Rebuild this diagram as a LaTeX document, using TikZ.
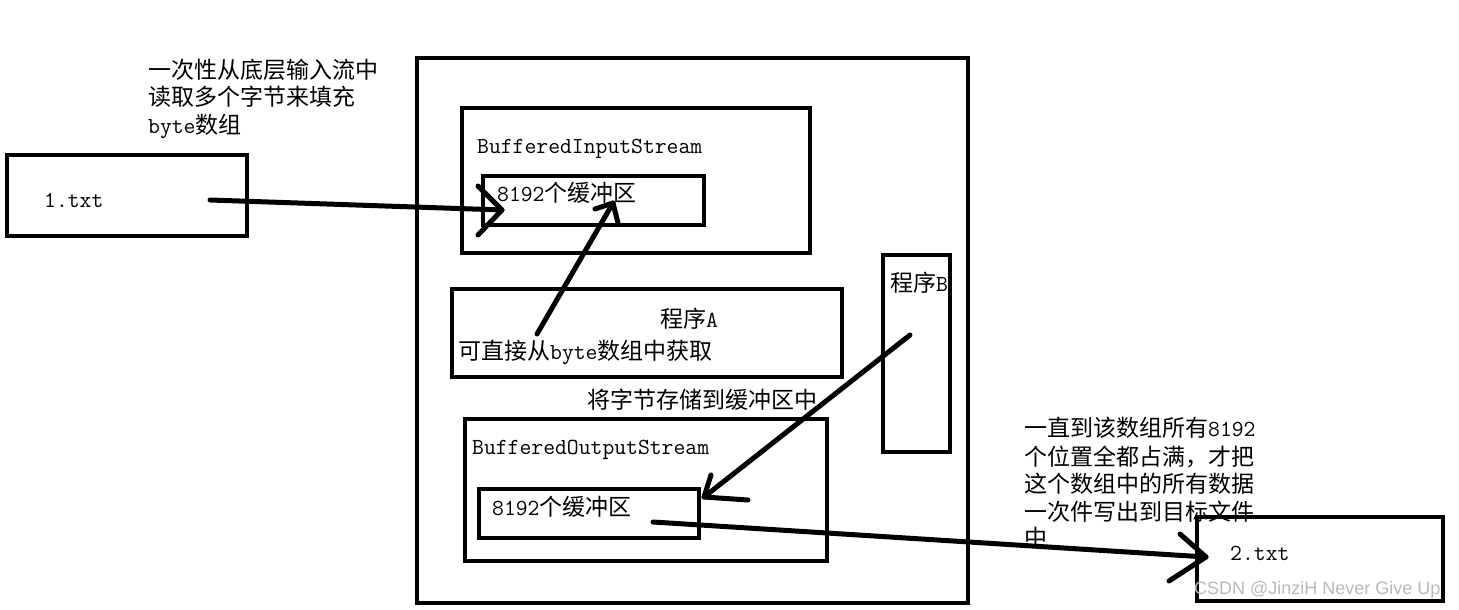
\documentclass[tikz,border=0pt]{standalone}
\usepackage{fontspec}
\setmainfont{Noto Sans CJK SC}
\newfontfamily\wmfont{Liberation Sans}
\newcommand{\mn}[1]{{\ttfamily\fontsize{23}{28}\selectfont #1}}
\begin{document}
\begin{tikzpicture}[x=1pt,y=-1pt,
  bx/.style={draw, line width=4.5pt, inner sep=0pt, outer sep=0pt, anchor=north west},
  tx/.style={anchor=west, inner sep=0pt, font=\fontsize{23}{28}\selectfont},
  arr/.style={line width=5pt, line cap=round, line join=round}]
\useasboundingbox (0,0) rectangle (1459,610);
% boxes
\node[bx, minimum width=240pt, minimum height=81pt] (txt1) at (7,155) {};
\node[bx, minimum width=551pt, minimum height=545pt] (outer) at (417,58) {};
\node[bx, minimum width=348pt, minimum height=145pt] (bis) at (462,108) {};
\node[bx, minimum width=221pt, minimum height=49pt] (buf1) at (483,176) {};
\node[bx, minimum width=390pt, minimum height=88pt] (progA) at (452,289) {};
\node[bx, minimum width=67pt, minimum height=197pt] (progB) at (883,255) {};
\node[bx, minimum width=362pt, minimum height=142pt] (bos) at (465,419) {};
\node[bx, minimum width=220pt, minimum height=49pt] (buf2) at (479,489) {};
\node[bx, minimum width=246pt, minimum height=84pt] (txt2) at (1197,517) {};
% texts
\node[tx] (l1) at (148,70) {一次性从底层输入流中};
\node[tx] (l2) at (148,97) {读取多个字节来填充};
\node[tx] (l3) at (148,126) {\mn{byte}数组};
\node[tx] (t1) at (44,200) {\mn{1.txt}};
\node[tx] (tbis) at (477,149) {\mn{BufferedInputStream}};
\node[tx] (tbuf1) at (497,193) {\mn{8192}个缓冲区};
\node[tx] (tA) at (660,319) {程序\mn{A}};
\node[tx] (tget) at (458,352) {可直接从\mn{byte}数组中获取};
\node[tx] (tB) at (890,283) {程序\mn{B}};
\node[tx] (tstore) at (587,400) {将字节存储到缓冲区中};
\node[tx] (tbos) at (472,450) {\mn{BufferedOutputStream}};
\node[tx] (tbuf2) at (492,507) {\mn{8192}个缓冲区};
\node[tx] (r1) at (1024,428) {一直到该数组所有\mn{8192}};
\node[tx] (r2) at (1024,457) {个位置全都占满，才把};
\node[tx] (r3) at (1024,484) {这个数组中的所有数据};
\node[tx] (r4) at (1024,512) {一次件写出到目标文件};
\node[tx] (r5) at (1024,538) {中};
\node[tx] (t2) at (1230,553) {\mn{2.txt}};
% arrow 1
\coordinate (a1s) at (210,200);
\coordinate (a1t) at (502,210);
\coordinate (a1u) at (478,186);
\coordinate (a1d) at (478,235);
\draw[arr] (a1s) -- (a1t);
\draw[arr] (a1u) -- (a1t) -- (a1d);
% arrow 2
\coordinate (a2s) at (537,334);
\coordinate (a2t) at (613,203);
\coordinate (a2u) at (595,209);
\coordinate (a2d) at (618,223);
\draw[arr] (a2s) -- (a2t);
\draw[arr] (a2u) -- (a2t) -- (a2d);
% arrow 3
\coordinate (a3s) at (910,335);
\coordinate (a3t) at (704,497);
\coordinate (a3u) at (711,475);
\coordinate (a3d) at (748,500);
\draw[arr] (a3s) -- (a3t);
\draw[arr] (a3u) -- (a3t) -- (a3d);
% arrow 4
\coordinate (a4s) at (653,522);
\coordinate (a4t) at (1206,557);
\coordinate (a4u) at (1180,534);
\coordinate (a4d) at (1169,581);
\draw[arr] (a4s) -- (a4t);
\draw[arr] (a4u) -- (a4t) -- (a4d);
% watermark
\node[anchor=west, inner sep=0pt, text=black!28, font=\wmfont\fontsize{18}{22}\selectfont] (wm) at (1194,590) {CSDN @JinziH Never Give Up};
\end{tikzpicture}
\end{document}
